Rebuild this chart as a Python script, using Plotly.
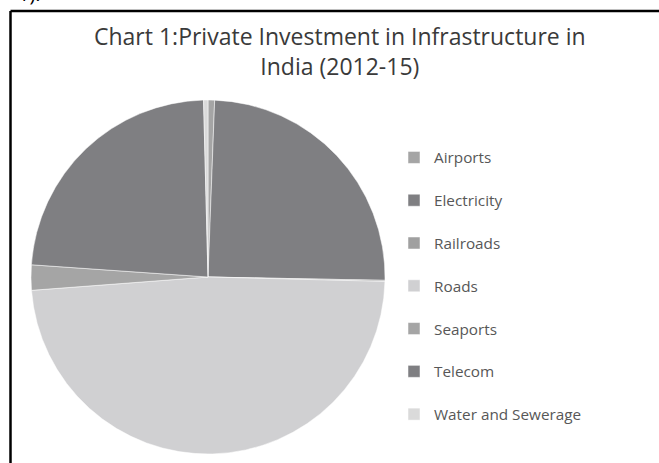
import plotly.graph_objects as go

W, H = 659, 463

# Share of private infrastructure investment by sector (%)
sectors = ["Airports", "Electricity", "Railroads", "Roads", "Seaports", "Telecom", "Water and Sewerage"]
shares = [0.6, 24.7, 0.1, 48.4, 2.3, 23.5, 0.4]
colors = ["#a5a5a5", "#7f7f82", "#a0a0a0", "#d0d0d2", "#a5a5a5", "#7f7f82", "#dadada"]

title_text = "Chart 1:Private Investment in Infrastructure in<br>India (2012-15)"

FONT = "Open Sans"


def px_x(v):
    return v / W


def px_y(v):
    return 1 - v / H


# pie placement in pixels: centre and radius
cx, cy, r = 208, 277, 177

# a trailing blank line gives each legend entry extra height
legend_labels = [f"{s}<br>&nbsp;" for s in sectors]

fig = go.Figure(
    go.Pie(
        labels=legend_labels,
        values=shares,
        sort=False,
        direction="clockwise",
        rotation=0,
        marker=dict(colors=colors, line=dict(color="white", width=0.5)),
        textinfo="none",
        hoverinfo="label+percent",
        domain=dict(x=[px_x(cx - r), px_x(cx + r)], y=[px_y(cy + r), px_y(cy - r)]),
    )
)

fig.update_layout(
    width=W,
    height=H,
    autosize=False,
    margin=dict(l=0, r=0, t=0, b=0),
    paper_bgcolor="white",
    plot_bgcolor="white",
    showlegend=True,
    legend=dict(
        x=px_x(394),
        y=px_y(141),
        xanchor="left",
        yanchor="top",
        font=dict(family=FONT, size=15.3, color="#575757"),
        valign="top",
        bgcolor="rgba(0,0,0,0)",
        borderwidth=0,
    ),
    annotations=[
        dict(
            text=title_text,
            x=px_x(340),
            y=px_y(51),
            xref="paper",
            yref="paper",
            xanchor="center",
            yanchor="middle",
            showarrow=False,
            align="center",
            font=dict(family=FONT, size=23, color="#3a3a3a"),
        ),
        dict(
            text="1).",
            x=px_x(16),
            y=px_y(-6),
            xref="paper",
            yref="paper",
            xanchor="left",
            yanchor="middle",
            showarrow=False,
            font=dict(family=FONT, size=20, color="black"),
        ),
    ],
    shapes=[
        dict(type="line", xref="paper", yref="paper",
             x0=px_x(10.5), x1=1.05, y0=px_y(11), y1=px_y(11),
             line=dict(color="black", width=2.5)),
        dict(type="line", xref="paper", yref="paper",
             x0=px_x(10.5), x1=px_x(10.5), y0=px_y(11), y1=-0.05,
             line=dict(color="black", width=2.5)),
    ],
)

fig.write_html("out.html")
